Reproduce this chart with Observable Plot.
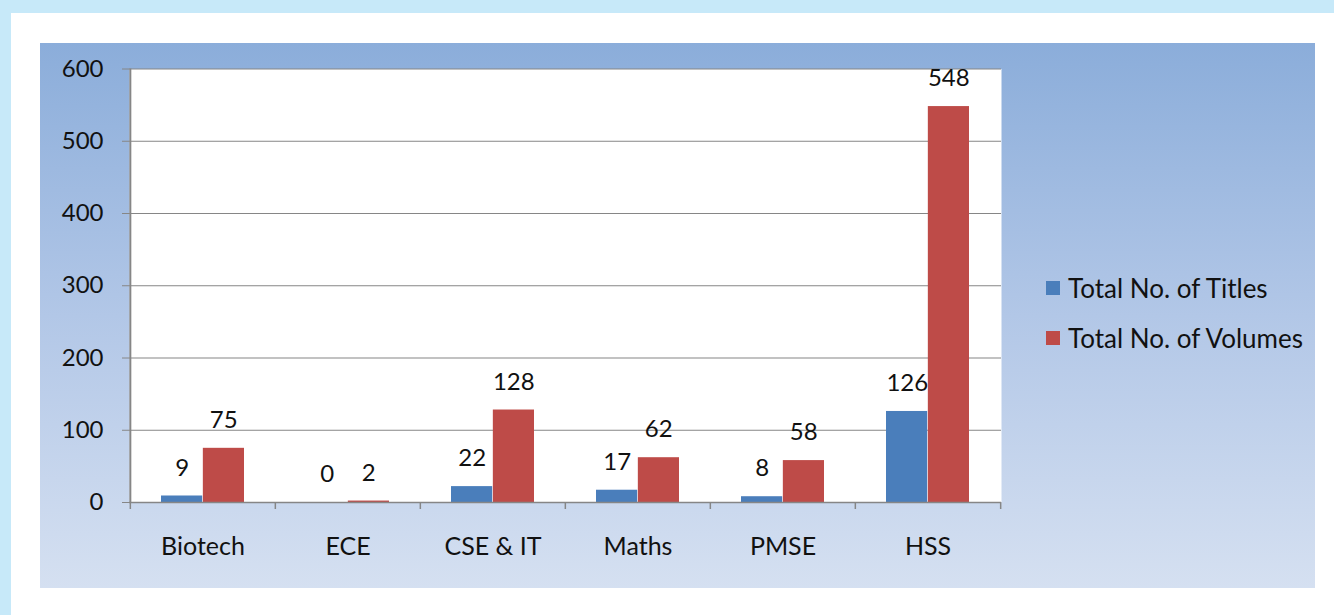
<!DOCTYPE html>
<html>
<head>
<meta charset="utf-8">
<script src="https://cdn.jsdelivr.net/npm/d3@7"></script>
<script src="https://cdn.jsdelivr.net/npm/@observablehq/plot@0.6"></script>
<style>
  html, body { margin: 0; padding: 0; width: 1334px; height: 615px; overflow: hidden; background: #c7e9f9; font-family: Lato, sans-serif; }
  #sheet { position: absolute; left: 11px; top: 13px; right: 0; bottom: 0; background: #ffffff; }
  #panel { position: absolute; left: 40px; top: 43px; width: 1275px; height: 545px;
           background: linear-gradient(to bottom, #8badda 0%, #b2c7e7 50%, #d5e0f1 100%); }
  #chart { position: absolute; left: 0; top: 0; }
  .legend { position: absolute; left: 1006px; font-size: 26px; color: #111; display: flex; align-items: center; white-space: nowrap; }
  .legend span.sw { display: inline-block; width: 14px; height: 14px; margin-right: 8px; }
</style>
</head>
<body>
<div id="sheet"></div>
<div id="panel">
  <div id="chart"></div>
  <div class="legend" style="top: 229px;"><span class="sw" style="background:#4a7ebb"></span>Total No. of Titles</div>
  <div class="legend" style="top: 279px;"><span class="sw" style="background:#be4b48"></span>Total No. of Volumes</div>
</div>
<script>
const categories = ["Biotech", "ECE", "CSE & IT", "Maths", "PMSE", "HSS"];
const titles = [9, 0, 22, 17, 8, 126];
const volumes = [75, 2, 128, 62, 58, 548];
const yTicks = [0, 100, 200, 300, 400, 500, 600];

const titleData = categories.map((c, i) => ({category: c, value: titles[i]}));
const volumeData = categories.map((c, i) => ({category: c, value: volumes[i]}));

const W = 1275, H = 545, mL = 89, mR = 314;
const step = (W - mL - mR) / categories.length;
const barW = 41.5, outer = 31;
const half = barW / 2;
const grey = "#868686";

const plot = Plot.plot({
  width: W,
  height: H,
  marginLeft: mL,
  marginRight: mR,
  marginTop: 25.5,
  marginBottom: 86,
  style: {background: "transparent", fontFamily: "Lato, sans-serif", fontSize: "24px", color: "#111"},
  x: {domain: categories, padding: 0, label: null, tickSize: 0, tickPadding: 36},
  y: {domain: [0, 600], ticks: yTicks, label: null, tickSize: 7, tickPadding: 19},
  marks: [
    Plot.frame({fill: "white", stroke: null}),
    Plot.gridY(yTicks, {stroke: grey, strokeOpacity: 1, strokeWidth: 1.2}),
    Plot.barY(titleData, {x: "category", y: "value", fill: "#4a7ebb",
      insetLeft: outer, insetRight: step - outer - barW}),
    Plot.barY(volumeData, {x: "category", y: "value", fill: "#be4b48",
      insetLeft: step - outer - barW, insetRight: outer}),
    Plot.text(titleData, {x: "category", y: "value", text: d => String(d.value),
      dx: -half, dy: -28, lineAnchor: "middle", fill: "#111", fontSize: 24}),
    Plot.text(volumeData, {x: "category", y: "value", text: d => String(d.value),
      dx: half, dy: -28, lineAnchor: "middle", fill: "#111", fontSize: 24}),
    Plot.ruleY([0], {stroke: grey, strokeWidth: 1.5}),
    Plot.ruleX([categories[0]], {dx: -step / 2, stroke: grey, strokeWidth: 2}),
    Plot.ruleX(categories, {x: d => d, y1: 0, y2: 0, insetBottom: -7, dx: -step / 2, stroke: grey, strokeWidth: 1.5}),
    Plot.ruleX([categories[categories.length - 1]], {y1: 0, y2: 0, insetBottom: -7, dx: step / 2, stroke: grey, strokeWidth: 1.5}),
    Plot.axisY({ticks: yTicks, tickSize: 7, tickPadding: 19, stroke: grey, fill: "#111", fontSize: 24}),
    Plot.axisX({tickSize: 0, tickPadding: 35, fill: "#111", fontSize: 25})
  ]
});
document.getElementById("chart").appendChild(plot);
</script>
</body>
</html>
